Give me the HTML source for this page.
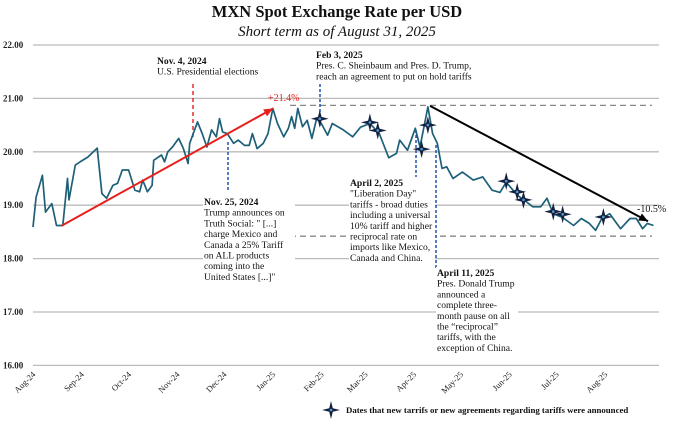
<!DOCTYPE html>
<html><head><meta charset="utf-8"><style>
html,body{margin:0;padding:0;background:#fff;}
svg{display:block;font-family:"Liberation Serif",serif;}
</style></head><body>
<svg id="chart" width="675" height="423" viewBox="0 0 675 423" xmlns="http://www.w3.org/2000/svg">
<text x="337" y="17" text-anchor="middle" font-size="16.5" font-weight="bold" fill="#111">MXN Spot Exchange Rate per USD</text>
<text x="337" y="36" text-anchor="middle" font-size="15" font-style="italic" fill="#111">Short term as of August 31, 2025</text>
<g id="grid"></g>
<g id="xlabels"></g>
<g id="ann"></g>
<g id="series"></g>
<g id="legend">
</g>
</svg>
<script>
const yTicks=[22,21,20,19,18,17,16];
const monthLabels=["Aug-24","Sep-24","Oct-24","Nov-24","Dec-24","Jan-25","Feb-25","Mar-25","Apr-25","May-25","Jun-25","Jul-25","Aug-25"];
const monthDays=[0,31,61,92,122,153,184,212,243,273,304,334,365];
const days=[0,2,6,8,12,15,19,22,23,27,30,35,41,44,47,51,54,57,61,65,68,70,73,76,77,82,84,86,89,93,96,99,100,105,108,111,114,117,119,121,124,128,131,135,138,140,143,147,150,153,156,160,163,165,167,169,172,175,178,181,184,188,191,198,204,209,215,221,227,232,234,239,244,247,252,255,258,261,264,268,274,281,287,293,298,302,309,315,319,324,328,332,338,345,350,355,359,363,368,375,381,385,389,392,396];
const rates=[18.59,19.15,19.56,18.87,19.03,18.62,18.62,19.5,19.1,19.75,19.81,19.9,20.07,19.22,19.13,19.37,19.41,19.66,19.66,19.28,19.25,19.47,19.25,19.37,19.84,19.94,19.81,20.0,20.09,20.25,20.06,19.78,20.16,20.56,20.34,20.09,20.41,20.28,20.62,20.37,20.34,20.16,20.22,20.12,20.12,20.34,20.06,20.16,20.34,20.81,20.53,20.28,20.44,20.66,20.44,20.81,20.47,20.59,20.25,20.62,20.53,20.31,20.53,20.41,20.28,20.46,20.53,20.34,19.89,19.97,20.22,20.03,20.44,20.09,20.84,20.34,20.16,19.69,19.72,19.5,19.62,19.47,19.53,19.28,19.24,19.43,19.19,19.06,18.97,18.97,19.13,18.84,18.77,18.62,18.75,18.66,18.53,18.75,18.84,18.56,18.75,18.75,18.56,18.66,18.62];
const starDays=[183,215,220,248,252,302,309,313,332,338,364];
const starRates=[20.62,20.55,20.4,20.05,20.5,19.45,19.25,19.1,18.88,18.83,18.78];
const NS="http://www.w3.org/2000/svg";
const X=d=>33+d*1.567;
const Y=v=>45+(22-v)*53.4;
function mk(tag,attrs,parent,txt){const e=document.createElementNS(NS,tag);for(const k in attrs)e.setAttribute(k,attrs[k]);if(txt!==undefined)e.textContent=txt;parent.appendChild(e);return e;}
const grid=document.getElementById('grid');
yTicks.forEach(t=>{
 const l=mk('line',{x1:33,x2:659,y1:Y(t),y2:Y(t),stroke:'#bbb','stroke-width':1.3},grid);
 
 
 const tx=mk('text',{x:3,y:Y(t)+3,'font-size':9,'font-weight':'bold',fill:'#222'},grid,t.toFixed(2));
 
 
});
const xl=document.getElementById('xlabels');
monthLabels.forEach((m,i)=>{
 const x=X(monthDays[i])+3,y=375;
 const t=mk('text',{x:x,y:y,'font-size':8.5,fill:'#222','text-anchor':'end',transform:`rotate(-45 ${x} ${y})`},xl,m);
 
 
});
const ann=document.getElementById('ann');
function dash(x1,y1,x2,y2,col,w,da,name){const l=mk('line',{x1,y1,x2,y2,stroke:col,'stroke-width':w,'stroke-dasharray':da},ann);return l;}
dash(290,Y(20.87),652,Y(20.87),'#888',1.3,'6,4','upper-reference-line');
dash(290,Y(18.42),652,Y(18.42),'#888',1.3,'6,4','lower-reference-line');
function block(x,y,lines,name,bg){
 const g=mk('g',{},ann);
 if(bg){mk('rect',{x:x-1,y:y-9,width:bg,height:lines.length*10.7+2,fill:'#fff'},g);}
 lines.forEach((s,i)=>mk('text',{x:x,y:y+i*10.7,'font-size':9.6,fill:'#111','font-weight':i==0?'bold':'normal'},g,s));
}
dash(193,84,193,140,'#e03030',1.5,'4,3','nov4-marker');
dash(320,84,320,126,'#2050b0',1.5,'3,2','feb3-marker');
dash(228,142,228,190,'#2050b0',1.5,'3,2','nov25-marker');
dash(416,130,416,180,'#2050b0',1.5,'3,2','apr2-marker');
dash(436,145,436,270,'#2050b0',1.5,'3,2','apr11-marker');
block(157,64,["Nov. 4, 2024","U.S. Presidential elections"],'nov4-annotation');
block(316,58,["Feb 3, 2025","Pres. C. Sheinbaum and Pres. D. Trump,","reach an agreement to put on hold tariffs"],'feb3-annotation');
block(204,205,["Nov. 25, 2024","Trump announces on","Truth Social: \" [...]","charge Mexico and","Canada a 25% Tariff","on ALL products","coming into the","United States [...]\""],'nov25-annotation',92);
block(350,186,["April 2, 2025","\"Liberation Day\"","tariffs - broad duties","including a universal","10% tariff and higher","reciprocal rate on","imports like Mexico,","Canada and China."],'apr2-annotation',86);
block(437,276,["April 11, 2025","Pres. Donald Trump","announced a","complete three-","month pause on all","the \u201creciprocal\u201d","tariffs, with the","exception of China."],'apr11-annotation',82);
const s=document.getElementById('series');
const p=mk('path',{d:days.map((d,i)=>(i?'L':'M')+X(d).toFixed(1)+','+Y(rates[i]).toFixed(1)).join(''),fill:'none',stroke:'#1d6078','stroke-width':1.7,'stroke-linejoin':'round'},s);


function arrow(x1,y1,x2,y2,col,name){
 const g=mk('g',{},s);
 mk('line',{x1,y1,x2,y2,stroke:col,'stroke-width':2},g);
 const a=Math.atan2(y2-y1,x2-x1),L=9,W=4;
 const bx=x2-L*Math.cos(a),by=y2-L*Math.sin(a);
 mk('polygon',{points:`${x2},${y2} ${bx-W*Math.sin(a)},${by+W*Math.cos(a)} ${bx+W*Math.sin(a)},${by-W*Math.cos(a)}`,fill:col},g);
}
arrow(62,Y(18.62),273,Y(20.81),'#e8201c','rise-arrow');
arrow(430,Y(20.86),648,Y(18.7),'#000','decline-arrow');
const up=mk('text',{x:268,y:101,'font-size':10,fill:'#e8201c'},s,'+21.4%');


const dn=mk('text',{x:637,y:212,'font-size':10,fill:'#111'},s,'-10.5%');


function star(cx,cy,parent,r){
 const g=mk('g',{},parent);
 mk('path',{d:`M${cx},${cy-r}L${cx+1.8},${cy-1.8}L${cx+r},${cy}L${cx+1.8},${cy+1.8}L${cx},${cy+r}L${cx-1.8},${cy+1.8}L${cx-r},${cy}L${cx-1.8},${cy-1.8}Z`,fill:'#15203f'},g);
 mk('circle',{cx,cy,r:1.3,fill:'#4fa0d8'},g);
 return g;
}
starDays.forEach((d,i)=>{
 const g=star(X(d),Y(starRates[i]),s,9);
 
 
});
const lg=document.getElementById('legend');
const ls=star(331,410,lg,9);


const lt=mk('text',{x:346,y:413,'font-size':8.8,'font-weight':'bold',fill:'#111'},lg,'Dates that new tarrifs or new agreements regarding tariffs were announced');


</script>
</body></html>
